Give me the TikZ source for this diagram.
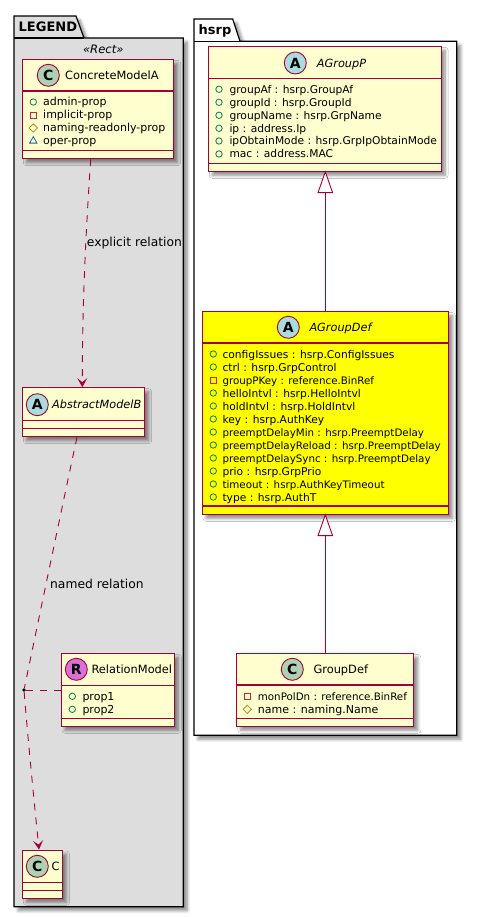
\documentclass[tikz,border=0pt]{standalone}
\usepackage{fontspec}
\setmainfont{DejaVu Sans}
\usetikzlibrary{arrows.meta, positioning, calc, shapes.geometric, shadows, shadows.blur}
\definecolor{umlline}{HTML}{A80036}
\definecolor{umlfill}{HTML}{FEFECE}
\definecolor{pkgfill}{HTML}{DDDDDD}
\definecolor{spotc}{HTML}{ADD1B2}
\definecolor{spota}{HTML}{A9DCDF}
\definecolor{spotr}{HTML}{DA70D6}
\definecolor{pubcol}{HTML}{038048}
\definecolor{pricol}{HTML}{C82930}
\definecolor{procol}{HTML}{B38D22}
\definecolor{pkgcol}{HTML}{1963A0}
\definecolor{hilite}{HTML}{FFFF00}

\begin{document}
\begin{tikzpicture}[
  x=1pt, y=-1pt,
  softshadow/.style={blur shadow={shadow xshift=4pt, shadow yshift=-4pt,
                     shadow blur radius=3pt, shadow blur steps=6, shadow opacity=45}},
  pkg/.style={draw=black, line width=1.2pt, softshadow},
  pkgname/.style={inner sep=0pt, anchor=base west, font=\fontsize{13}{14}\selectfont\bfseries},
  umlbox/.style={draw=umlline, fill=umlfill, line width=1.1pt, rectangle, inner sep=0pt,
                 softshadow},
  yellowbox/.style={umlbox, fill=hilite},
  sep/.style={draw=umlline, line width=1.1pt},
  spot/.style={circle, draw=umlline, line width=0.9pt, minimum size=22pt, inner sep=0pt,
               font=\fontsize{14}{14}\selectfont\bfseries},
  cname/.style={inner sep=0pt, anchor=base west, font=\fontsize{11.4}{14}\selectfont},
  aname/.style={cname, font=\fontsize{11.3}{14}\selectfont\itshape},
  attr/.style={inner sep=0pt, anchor=base west, font=\fontsize{10.7}{13}\selectfont},
  attrlong/.style={attr, font=\fontsize{10.3}{13}\selectfont},
  legattr/.style={attr, font=\fontsize{11}{13}\selectfont},
  pub/.style={circle, draw=pubcol, line width=0.8pt, minimum size=6.4pt, inner sep=0pt},
  pri/.style={rectangle, draw=pricol, line width=0.8pt, minimum size=6pt, inner sep=0pt},
  pro/.style={diamond, draw=procol, line width=0.8pt, minimum size=8.6pt, inner sep=0pt},
  pac/.style={regular polygon, regular polygon sides=3, draw=pkgcol, line width=0.8pt,
              minimum size=8.6pt, inner sep=0pt},
  dep/.style={draw=umlline, line width=0.9pt, dash pattern=on 7pt off 7pt,
              -{Stealth[length=9pt, width=10pt, inset=4pt, fill=umlline]}},
  depline/.style={draw=umlline, line width=0.9pt, dash pattern=on 7pt off 7pt},
  gen/.style={draw=umlline, line width=0.9pt},
  gentip/.style={draw=umlline, fill=white, line width=0.9pt, line join=miter},
  rel/.style={inner sep=0pt, anchor=base west, font=\fontsize{12.3}{14}\selectfont},
]
  \useasboundingbox (0,0) rectangle (477,917);

  % ---- LEGEND package ----
  \draw[pkg, fill=pkgfill] (14,38) -- (14,16) -- (76,16) -- (84,38) -- (183.3,38)
    -- (183.3,906.7) -- (14,906.7) -- cycle;
  \draw[line width=1.2pt] (14,38) -- (84,38);
  \node[pkgname] (legname) at (18.5,31.5) {LEGEND};
  \node[inner sep=0pt, font=\fontsize{11.6}{14}\selectfont\itshape] (rectname) at (103.3,49.5) {«Rect»};

  % ---- hsrp package ----
  \draw[pkg, fill=white] (194,41.3) -- (194,19) -- (232.7,19) -- (240,41.3) -- (456.7,41.3)
    -- (456.7,735.3) -- (194,735.3) -- cycle;
  \draw[line width=1.2pt] (194,41.3) -- (240,41.3);
  \node[pkgname] (hsrpname) at (198.5,34.5) {hsrp};

  % ---- ConcreteModelA ----
  \node[umlbox, minimum width=151.4pt, minimum height=99.4pt] (cma) at (98,109) {};
  \draw[sep] (cma.west |- 0,91) -- (cma.east |- 0,91);
  \draw[sep] (cma.west |- 0,150.5) -- (cma.east |- 0,150.5);
  \node[spot, fill=spotc] (cmaspot) at (48.3,75.3) {C};
  \node[cname] (cmaname) at (65,79.5) {ConcreteModelA};
  \node[pub] (cmai1) at (33.3,102) {};
  \node[legattr] (cmat1) at (43,106) {admin-prop};
  \node[pri] (cmai2) at (33.3,115) {};
  \node[legattr] (cmat2) at (43,119) {implicit-prop};
  \node[pro] (cmai3) at (33.3,128) {};
  \node[legattr] (cmat3) at (43,132) {naming-readonly-prop};
  \node[pac] (cmai4) at (33.3,141) {};
  \node[legattr] (cmat4) at (43,145) {oper-prop};

  % ---- AbstractModelB ----
  \node[umlbox, minimum width=122.4pt, minimum height=49pt] (amb) at (83.5,412.2) {};
  \draw[sep] (amb.west |- 0,420.3) -- (amb.east |- 0,420.3);
  \draw[sep] (amb.west |- 0,428.3) -- (amb.east |- 0,428.3);
  \node[spot, fill=spota] (ambspot) at (37.3,404.7) {A};
  \node[aname] (ambname) at (52,408.9) {AbstractModelB};

  % ---- RelationModel ----
  \node[umlbox, minimum width=113.3pt, minimum height=73pt] (rm) at (117.7,689.8) {};
  \draw[sep] (rm.west |- 0,685.7) -- (rm.east |- 0,685.7);
  \draw[sep] (rm.west |- 0,718.3) -- (rm.east |- 0,718.3);
  \node[spot, fill=spotr] (rmspot) at (76.3,669.3) {R};
  \node[cname] (rmname) at (91.3,673.5) {RelationModel};
  \node[pub] (rmi1) at (72.3,696.3) {};
  \node[legattr] (rmt1) at (82.3,700.3) {prop1};
  \node[pub] (rmi2) at (72.3,709.3) {};
  \node[legattr] (rmt2) at (82.3,713.3) {prop2};

  % ---- C ----
  \node[umlbox, minimum width=40.2pt, minimum height=48.3pt] (cc) at (42.4,874.2) {};
  \draw[sep] (cc.west |- 0,882.3) -- (cc.east |- 0,882.3);
  \draw[sep] (cc.west |- 0,890.3) -- (cc.east |- 0,890.3);
  \node[spot, fill=spotc] (ccspot) at (37.3,866.3) {C};
  \node[cname] (ccname) at (51.5,870.5) {C};

  % ---- AGroupP ----
  \node[umlbox, minimum width=232.7pt, minimum height=125pt] (agp) at (324.7,108.8) {};
  \draw[sep] (agp.west |- 0,78.7) -- (agp.east |- 0,78.7);
  \draw[sep] (agp.west |- 0,163.3) -- (agp.east |- 0,163.3);
  \node[spot, fill=spota] (agpspot) at (295.3,63) {A};
  \node[aname] (agpname) at (316.7,67.2) {AGroupP};
  \node[pub] (agpi1) at (219,89.3) {};
  \node[attr] (agpt1) at (229.3,93.3) {groupAf : hsrp.GroupAf};
  \node[pub] (agpi2) at (219,102.3) {};
  \node[attr] (agpt2) at (229.3,106.3) {groupId : hsrp.GroupId};
  \node[pub] (agpi3) at (219,115.3) {};
  \node[attr] (agpt3) at (229.3,119.3) {groupName : hsrp.GrpName};
  \node[pub] (agpi4) at (219,128.3) {};
  \node[attr] (agpt4) at (229.3,132.3) {ip : address.Ip};
  \node[pub] (agpi5) at (219,141) {};
  \node[attr] (agpt5) at (229.3,145) {ipObtainMode : hsrp.GrpIpObtainMode};
  \node[pub] (agpi6) at (219,154) {};
  \node[attr] (agpt6) at (229.3,158) {mac : address.MAC};

  % ---- AGroupDef ----
  \node[yellowbox, minimum width=246.4pt, minimum height=202.6pt] (agd) at (325.3,413) {};
  \draw[sep] (agd.west |- 0,343) -- (agd.east |- 0,343);
  \draw[sep] (agd.west |- 0,506) -- (agd.east |- 0,506);
  \node[spot, fill=spota] (agdspot) at (288.3,327.3) {A};
  \node[aname] (agdname) at (309.3,331.5) {AGroupDef};
  \node[pub] (agdi1) at (213.3,354) {};
  \node[attr] (agdt1) at (222.3,358) {configIssues : hsrp.ConfigIssues};
  \node[pub] (agdi2) at (213.3,367) {};
  \node[attr] (agdt2) at (222.3,371) {ctrl : hsrp.GrpControl};
  \node[pri] (agdi3) at (213.3,380.3) {};
  \node[attrlong] (agdt3) at (222.3,384.3) {groupPKey : reference.BinRef};
  \node[pub] (agdi4) at (213.3,393) {};
  \node[attr] (agdt4) at (222.3,397) {helloIntvl : hsrp.HelloIntvl};
  \node[pub] (agdi5) at (213.3,406) {};
  \node[attr] (agdt5) at (222.3,410) {holdIntvl : hsrp.HoldIntvl};
  \node[pub] (agdi6) at (213.3,419) {};
  \node[attr] (agdt6) at (222.3,423) {key : hsrp.AuthKey};
  \node[pub] (agdi7) at (213.3,432) {};
  \node[attrlong] (agdt7) at (222.3,436) {preemptDelayMin : hsrp.PreemptDelay};
  \node[pub] (agdi8) at (213.3,445) {};
  \node[attrlong] (agdt8) at (222.3,449) {preemptDelayReload : hsrp.PreemptDelay};
  \node[pub] (agdi9) at (213.3,458) {};
  \node[attrlong] (agdt9) at (222.3,462) {preemptDelaySync : hsrp.PreemptDelay};
  \node[pub] (agdi10) at (213.3,471) {};
  \node[attr] (agdt10) at (222.3,475) {prio : hsrp.GrpPrio};
  \node[pub] (agdi11) at (213.3,484) {};
  \node[attrlong] (agdt11) at (222.3,488) {timeout : hsrp.AuthKeyTimeout};
  \node[pub] (agdi12) at (213.3,497) {};
  \node[attr] (agdt12) at (222.3,501) {type : hsrp.AuthT};

  % ---- GroupDef ----
  \node[umlbox, minimum width=177pt, minimum height=73pt] (gd) at (325.3,689.8) {};
  \draw[sep] (gd.west |- 0,685) -- (gd.east |- 0,685);
  \draw[sep] (gd.west |- 0,718.3) -- (gd.east |- 0,718.3);
  \node[spot, fill=spotc] (gdspot) at (292.3,669.3) {C};
  \node[cname] (gdname) at (313.3,673.5) {GroupDef};
  \node[pri] (gdi1) at (247.3,696.3) {};
  \node[attrlong] (gdt1) at (257.7,700.3) {monPolDn : reference.BinRef};
  \node[pro] (gdi2) at (247.3,709.3) {};
  \node[legattr] (gdt2) at (257.7,713.3) {name : naming.Name};

  % ---- association point ----
  \node[circle, fill=black, minimum size=3.6pt, inner sep=0pt] (relpt) at (24,690) {};

  % ==== LEGEND RELATIONS ====
  \draw[dep] ([xshift=-7.3pt]cma.south) .. controls (86,230) and (82.3,300) .. ([xshift=-1.2pt]amb.north);
  \node[rel] (explicitlab) at (86.7,246.7) {explicit relation};
  \draw[depline] ([xshift=-6.5pt]amb.south) .. controls (63.5,500) and (37,627) .. (relpt);
  \node[rel] (namedlab) at (50,588.8) {named relation};
  \draw[depline] (relpt) -- (rm.west |- relpt);
  \draw[dep] (relpt) .. controls (28,740) and (34,800) .. ([xshift=-3.4pt]cc.north);

  % ==== GENERALISATION ====
  \draw[gen] (agd.north) -- (agd.north |- agp.south);
  \draw[gentip] (agd.north |- agp.south) -- ++(-7.3,20.8) -- ++(14.6,0) -- cycle;
  \draw[gen] (gd.north) -- (agd.south);
  \draw[gentip] (agd.south) -- ++(-7.3,20.8) -- ++(14.6,0) -- cycle;
\end{tikzpicture}
\end{document}
